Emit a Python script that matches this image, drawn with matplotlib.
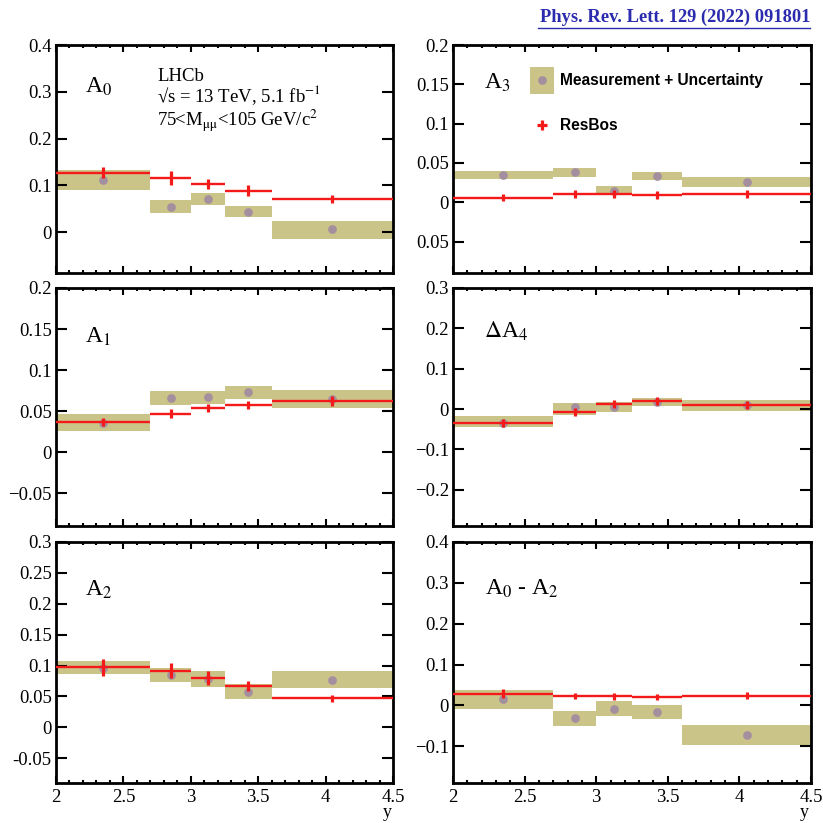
import matplotlib
matplotlib.use("Agg")
import matplotlib.pyplot as plt
from matplotlib.patches import Rectangle
from matplotlib.lines import Line2D
from matplotlib.ticker import FixedLocator, FixedFormatter, MultipleLocator

plt.rcParams['font.family'] = ['Liberation Serif', 'DejaVu Serif']
plt.rcParams['mathtext.fontset'] = 'stix'

# ---------------- data ----------------
bin_edges = [2.0, 2.7, 3.0, 3.25, 3.6, 4.5]
bin_centers = [2.35, 2.85, 3.125, 3.425, 4.05]

names = ["A0", "A3", "A1", "dA4", "A2", "A0mA2"]
panel_labels = [r"A$_0$", r"A$_3$", r"A$_1$", r"$\Delta$A$_4$", r"A$_2$", r"A$_0$ - A$_2$"]

meas_A0 = [0.112, 0.054, 0.071, 0.044, 0.006]
lo_A0 = [0.091, 0.041, 0.059, 0.032, -0.014]
hi_A0 = [0.134, 0.068, 0.084, 0.056, 0.025]
resbos_A0 = [0.127, 0.116, 0.103, 0.089, 0.071]
reserr_A0 = [0.012, 0.014, 0.010, 0.011, 0.009]

meas_A3 = [0.035, 0.038, 0.014, 0.034, 0.026]
lo_A3 = [0.030, 0.032, 0.011, 0.028, 0.020]
hi_A3 = [0.040, 0.044, 0.021, 0.039, 0.032]
resbos_A3 = [0.006, 0.010, 0.011, 0.009, 0.0105]
reserr_A3 = [0.005, 0.005, 0.005, 0.005, 0.005]

meas_A1 = [0.035, 0.066, 0.067, 0.073, 0.065]
lo_A1 = [0.026, 0.058, 0.0585, 0.065, 0.054]
hi_A1 = [0.046, 0.074, 0.075, 0.080, 0.076]
resbos_A1 = [0.037, 0.047, 0.054, 0.057, 0.062]
reserr_A1 = [0.005, 0.005, 0.005, 0.005, 0.006]

meas_dA4 = [-0.034, 0.004, 0.004, 0.018, 0.011]
lo_dA4 = [-0.045, -0.015, -0.007, 0.007, -0.004]
hi_dA4 = [-0.017, 0.014, 0.018, 0.027, 0.023]
resbos_dA4 = [-0.034, -0.007, 0.012, 0.021, 0.011]
reserr_dA4 = [0.010, 0.010, 0.010, 0.010, 0.010]

meas_A2 = [0.096, 0.084, 0.079, 0.058, 0.077]
lo_A2 = [0.087, 0.073, 0.065, 0.046, 0.064]
hi_A2 = [0.107, 0.096, 0.092, 0.070, 0.091]
resbos_A2 = [0.097, 0.092, 0.080, 0.067, 0.047]
reserr_A2 = [0.014, 0.012, 0.012, 0.008, 0.006]

meas_A0mA2 = [0.015, -0.032, -0.008, -0.015, -0.073]
lo_A0mA2 = [-0.008, -0.051, -0.027, -0.033, -0.097]
hi_A0mA2 = [0.038, -0.014, 0.011, 0.002, -0.049]
resbos_A0mA2 = [0.029, 0.023, 0.022, 0.0205, 0.024]
reserr_A0mA2 = [0.010, 0.008, 0.008, 0.008, 0.008]

yticks_A0 = [0, 0.1, 0.2, 0.3, 0.4]
ylabels_A0 = ["0", "0.1", "0.2", "0.3", "0.4"]
yticks_A3 = [-0.05, 0, 0.05, 0.1, 0.15, 0.2]
ylabels_A3 = ["0.05", "0", "0.05", "0.1", "0.15", "0.2"]
yticks_A1 = [-0.05, 0, 0.05, 0.1, 0.15, 0.2]
ylabels_A1 = ["\u22120.05", "0", "0.05", "0.1", "0.15", "0.2"]
yticks_dA4 = [-0.2, -0.1, 0, 0.1, 0.2, 0.3]
ylabels_dA4 = ["\u22120.2", "\u22120.1", "0", "0.1", "0.2", "0.3"]
yticks_A2 = [-0.05, 0, 0.05, 0.1, 0.15, 0.2, 0.25, 0.3]
ylabels_A2 = ["-0.05", "0", "0.05", "0.1", "0.15", "0.2", "0.25", "0.3"]
yticks_A0mA2 = [-0.1, 0, 0.1, 0.2, 0.3, 0.4]
ylabels_A0mA2 = ["\u22120.1", "0", "0.1", "0.2", "0.3", "0.4"]

ylims = [(-0.087, 0.4), (-0.09, 0.2), (-0.09, 0.2), (-0.29, 0.3), (-0.09, 0.3), (-0.19, 0.4)]

xticks = [2, 2.5, 3, 3.5, 4, 4.5]
xticklabels = ["2", "2.5", "3", "3.5", "4", "4.5"]

panels = [
    (meas_A0, lo_A0, hi_A0, resbos_A0, reserr_A0, yticks_A0, ylabels_A0),
    (meas_A3, lo_A3, hi_A3, resbos_A3, reserr_A3, yticks_A3, ylabels_A3),
    (meas_A1, lo_A1, hi_A1, resbos_A1, reserr_A1, yticks_A1, ylabels_A1),
    (meas_dA4, lo_dA4, hi_dA4, resbos_dA4, reserr_dA4, yticks_dA4, ylabels_dA4),
    (meas_A2, lo_A2, hi_A2, resbos_A2, reserr_A2, yticks_A2, ylabels_A2),
    (meas_A0mA2, lo_A0mA2, hi_A0mA2, resbos_A0mA2, reserr_A0mA2, yticks_A0mA2, ylabels_A0mA2),
]

# ---------------- styling ----------------
BAND = "#cbc488"
DOT = "#a48f9f"
RED = "#f41a1a"

W = H = 823.0
fig = plt.figure(figsize=(8.23, 8.23), dpi=100)

col_px = [(56, 393), (453, 811)]
row_px = [(45, 273), (288, 526), (542, 783)]

label_pos = [(0.086, 0.789), (0.087, 0.807), (0.086, 0.770), (0.087, 0.790), (0.086, 0.777), (0.089, 0.780)]

widths = [bin_edges[i + 1] - bin_edges[i] for i in range(len(bin_centers))]
xerr_lo = [bin_centers[i] - bin_edges[i] for i in range(len(bin_centers))]
xerr_hi = [bin_edges[i + 1] - bin_centers[i] for i in range(len(bin_centers))]

axes = []
for k, (meas, lo, hi, rb, rbe, yt, yl) in enumerate(panels):
    r, c = divmod(k, 2)
    x0, x1 = col_px[c]
    y0, y1 = row_px[r]
    ax = fig.add_axes([x0 / W, 1 - y1 / H, (x1 - x0) / W, (y1 - y0) / H])
    axes.append(ax)
    heights = [h - l for h, l in zip(hi, lo)]
    ax.bar(bin_edges[:-1], heights, width=widths, bottom=lo, align="edge",
           color=BAND, linewidth=0, zorder=1)
    ax.plot(bin_centers, meas, "o", color=DOT, ms=6.3, mec="none", zorder=2)
    ax.errorbar(bin_centers, rb, xerr=[xerr_lo, xerr_hi], fmt="none",
                ecolor=RED, elinewidth=1.7, capsize=0, zorder=3)
    ax.errorbar(bin_centers, rb, yerr=rbe, fmt="none",
                ecolor=RED, elinewidth=2.3, capsize=0, zorder=3)
    ax.set_xlim(2, 4.5)
    ax.set_ylim(*ylims[k])
    ax.yaxis.set_major_locator(FixedLocator(yt))
    ax.yaxis.set_major_formatter(FixedFormatter(yl))
    ax.xaxis.set_major_locator(FixedLocator(xticks))
    ax.xaxis.set_minor_locator(MultipleLocator(0.1))
    if r == 2:
        ax.xaxis.set_major_formatter(FixedFormatter(xticklabels))
    else:
        ax.set_xticklabels([])
    ax.tick_params(axis="both", which="both", direction="in", top=True, right=True,
                   labelsize=13.5, width=1.5, colors="black")
    ax.tick_params(axis="y", which="major", length=8, pad=3)
    ax.tick_params(axis="x", which="major", length=5, pad=4)
    ax.tick_params(axis="x", which="minor", length=2.5)
    for s in ax.spines.values():
        s.set_linewidth(2.0)
    ax.text(label_pos[k][0], label_pos[k][1], panel_labels[k], transform=ax.transAxes,
            fontsize=17, ha="left", va="baseline")
    if r == 2:
        ax.text(0.995, -0.142, "y", transform=ax.transAxes, fontsize=13,
                ha="right", va="baseline")

# LHCb text
ax0 = axes[0]
ax0.text(0.30, 0.842, "LHCb", transform=ax0.transAxes, fontsize=13.5, va="baseline")
ax0.text(0.30, 0.748, "\u221as = 13 TeV, 5.1 fb$^{\\mathrm{-1}}$",
         transform=ax0.transAxes, fontsize=13.5, va="baseline")
ax0.text(0.30, 0.643, "75<M$_{\\mathrm{\u03bc\u03bc}}$<105 GeV/c$^{\\mathrm{2}}$",
         transform=ax0.transAxes, fontsize=13.5, va="baseline")

# Legend in A3 panel
ax3 = axes[1]
ax3.add_patch(Rectangle((0.215, 0.785), 0.067, 0.119, transform=ax3.transAxes,
                        color=BAND, linewidth=0, zorder=4))
ax3.plot([0.2485], [0.845], "o", color=DOT, ms=6.3, mec="none", transform=ax3.transAxes, zorder=5)
ax3.text(0.299, 0.845, "Measurement + Uncertainty", transform=ax3.transAxes,
         fontsize=11.2, fontweight="bold", family=["Liberation Sans", "DejaVu Sans"],
         va="center", ha="left")
ax3.plot([0.249], [0.649], "+", color=RED, ms=7, mew=2.3, transform=ax3.transAxes, zorder=5)
ax3.text(0.299, 0.649, "ResBos", transform=ax3.transAxes,
         fontsize=11.2, fontweight="bold", family=["Liberation Sans", "DejaVu Sans"],
         va="center", ha="left")

# Header link
hdr = fig.text(810 / W, 1 - 17 / H, "Phys. Rev. Lett. 129 (2022) 091801", fontsize=13.3,
               fontweight="bold", color="#2b2bae", ha="right", va="center")
fig.add_artist(Line2D([538 / W, 810 / W], [1 - 27.5 / H, 1 - 27.5 / H], color="#2b2bae",
                      linewidth=1.0, transform=fig.transFigure))

fig.savefig("out.png", dpi=100)
